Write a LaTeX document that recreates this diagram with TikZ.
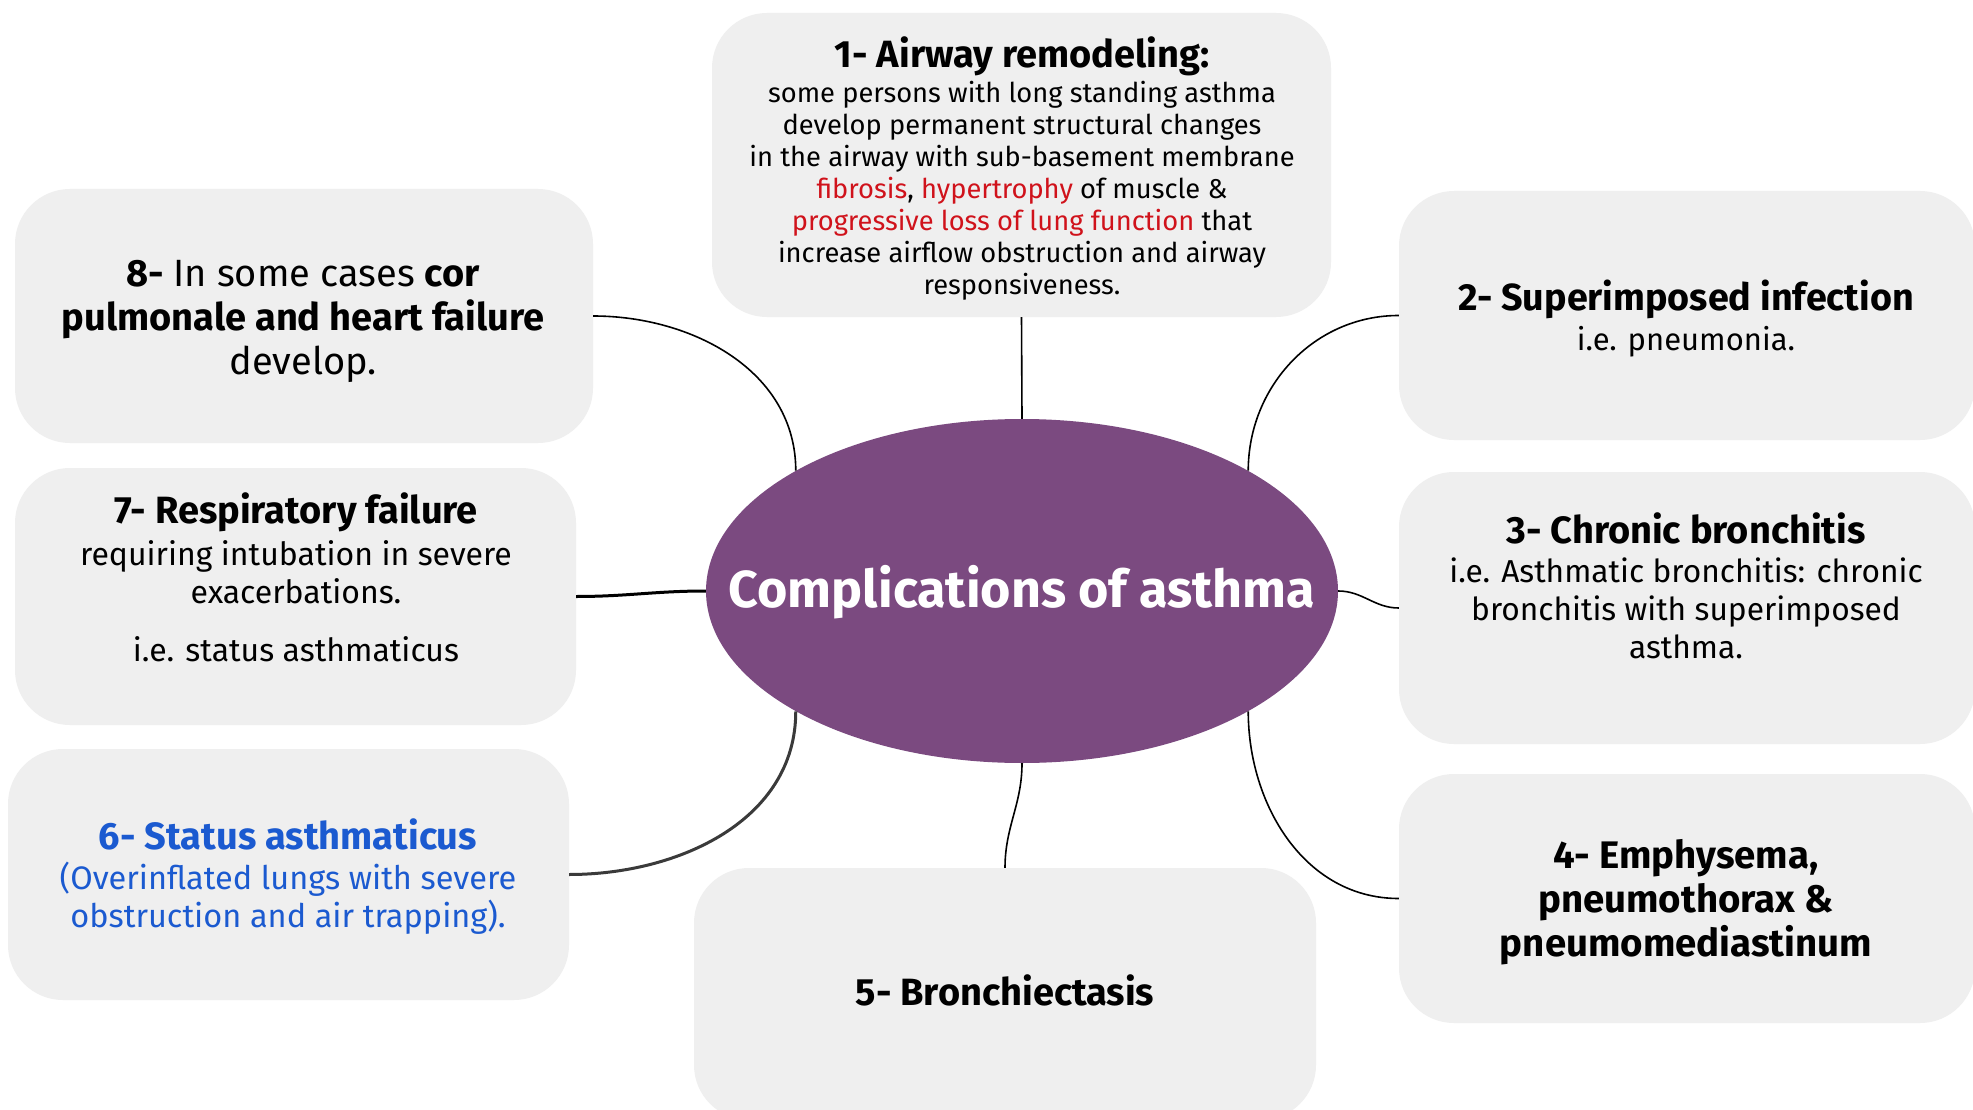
\documentclass[tikz,border=0pt]{standalone}
\usepackage{fontspec}
\setmainfont{Fira Sans}
\usetikzlibrary{shapes.geometric}
\definecolor{boxgray}{HTML}{EFEFEF}
\definecolor{hubpurple}{HTML}{7B4A80}
\definecolor{txtred}{HTML}{D0121B}
\definecolor{txtblue}{HTML}{1B5AD0}
\definecolor{linedark}{HTML}{3A3A3A}
\tikzset{
  card/.style={draw=none, fill=boxgray, rounded corners=55pt, inner sep=0pt},
  hub/.style={ellipse, draw=none, fill=hubpurple, inner sep=0pt, minimum width=632pt, minimum height=344pt},
  cardtext/.style={align=center, inner sep=0pt, text=black},
  thinlink/.style={draw=black, line width=1.6pt},
  thicklink/.style={draw=black, line width=3pt},
  darklink/.style={draw=linedark, line width=3pt},
}
\begin{document}
\begin{tikzpicture}[x=1pt, y=-1pt]
\useasboundingbox (0,0) rectangle (1973,1110);
\clip (0,0) rectangle (1973,1110);
\fill[white] (0,0) rectangle (1973,1110);

% cards
\node[card, minimum width=619pt, minimum height=304pt] (b1) at (1021.5,165) {};
\node[card, minimum width=578pt, minimum height=254pt] (b8) at (304,316) {};
\node[card, minimum width=561pt, minimum height=257pt] (b7) at (295.5,596.5) {};
\node[card, minimum width=561pt, minimum height=251pt] (b6) at (288.5,874.5) {};
\node[card, minimum width=622pt, minimum height=252pt] (b5) at (1005,994) {};
\node[card, minimum width=576pt, minimum height=249pt] (b2) at (1687,315.5) {};
\node[card, minimum width=576pt, minimum height=272pt] (b3) at (1687,608) {};
\node[card, minimum width=576pt, minimum height=249pt] (b4) at (1687,898.5) {};

% hub
\node[hub] (hub) at (1022,591) {};
\node[font=\fontsize{52}{56}\selectfont\bfseries, text=white, inner sep=0pt] (hubtext) at (1022,592) {Complications of asthma};

% connectors
\draw[thinlink] (b1.south) -- (hub.north);
\draw[thinlink] (b8.east) to[out=0,in=90] (hub.152);
\draw[thicklink] (b7.east) to[out=0,in=180] (hub.west);
\draw[darklink] (b6.east) to[out=0,in=-90] (hub.208);
\draw[thinlink] (hub.south) to[out=-90,in=90] (b5.north);
\draw[thinlink] (b2.west) to[out=180,in=90] (hub.28);
\draw[thinlink] (hub.east) to[out=0,in=180] (b3.west);
\draw[thinlink] (b4.west) to[out=180,in=-90] (hub.332);

% texts
\node[cardtext, font=\fontsize{27.3}{32}\selectfont] (t1) at (1022,168) {%
{\fontsize{38}{32}\selectfont\bfseries 1- Airway remodeling:}\\[3pt]
some persons with long standing asthma\\
develop permanent structural changes\\
in the airway with sub-basement membrane\\
\textcolor{txtred}{fibrosis}, \textcolor{txtred}{hypertrophy} of muscle \&\\
\textcolor{txtred}{progressive loss of lung function} that\\
increase airflow obstruction and airway\\
responsiveness.};

\node[cardtext, font=\fontsize{38}{44}\selectfont] (t8) at (303,321) {%
\textbf{8-} In some cases \textbf{cor}\\
\textbf{pulmonale and heart failure}\\
develop.};

\node[cardtext, font=\fontsize{32}{38}\selectfont] (t7) at (296,577.5) {%
{\fontsize{38}{38}\selectfont\bfseries 7- Respiratory failure}\\[3.5pt]
requiring intubation in severe\\
exacerbations.\\[20pt]
i.e. status asthmaticus};

\node[cardtext, font=\fontsize{32.5}{38}\selectfont, text=txtblue] (t6) at (288,877) {%
{\fontsize{38}{38}\selectfont\bfseries 6- Status asthmaticus}\\[2pt]
(Overinflated lungs with severe\\
obstruction and air trapping).};

\node[cardtext, font=\fontsize{38}{40}\selectfont\bfseries] (t5) at (1005,990.5) {5- Bronchiectasis};

\node[cardtext, font=\fontsize{31}{40}\selectfont] (t2) at (1686,319) {%
{\fontsize{37.7}{40}\selectfont\bfseries 2- Superimposed infection}\\
i.e. pneumonia.};

\node[cardtext, font=\fontsize{31.7}{38}\selectfont] (t3) at (1686,586) {%
{\fontsize{38}{38}\selectfont\bfseries 3- Chronic bronchitis}\\[1pt]
i.e. Asthmatic bronchitis: chronic\\
bronchitis with superimposed\\
asthma.};

\node[cardtext, font=\fontsize{38.4}{44}\selectfont\bfseries] (t4) at (1686,902) {%
4- Emphysema,\\
pneumothorax \&\\
pneumomediastinum};
\end{tikzpicture}
\end{document}
